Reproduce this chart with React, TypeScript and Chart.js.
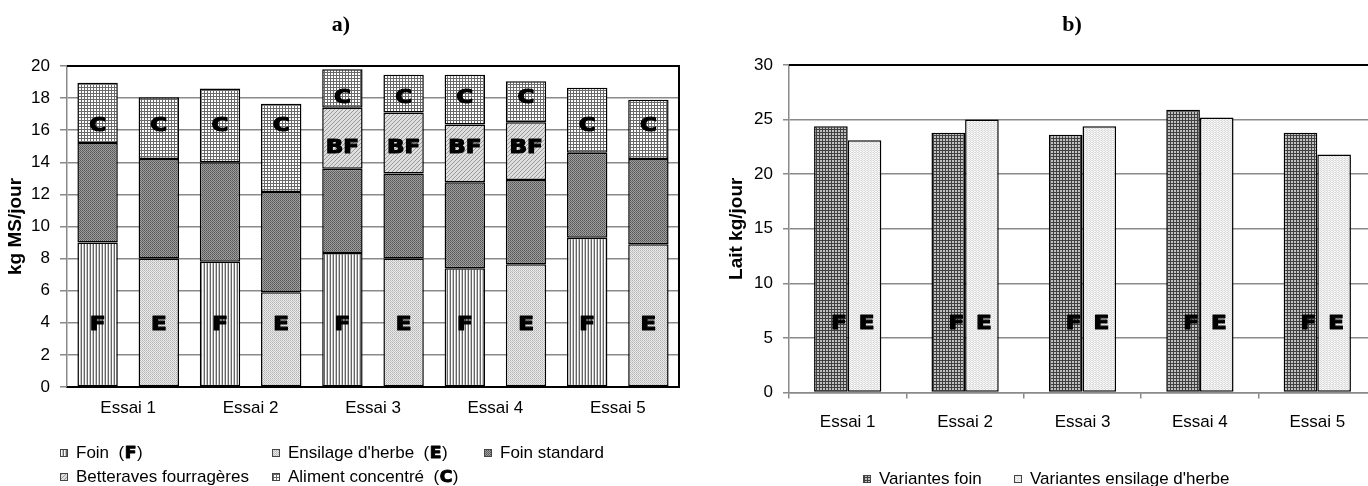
import React, { useEffect, useRef } from 'react';
import { Chart, registerables } from 'chart.js';

Chart.register(...registerables);

// ---------------- data ----------------
const essais = ['Essai 1', 'Essai 2', 'Essai 3', 'Essai 4', 'Essai 5'];
const variantLetters = ['F', 'E'];
const barLabels = essais.flatMap((e) => variantLetters.map((v) => `${e} ${v}`));

// a) ration, kg MS/jour — one value per bar (Essai 1 F, Essai 1 E, Essai 2 F, ...)
const foin = [9.0, null, 7.8, null, 8.35, null, 7.4, null, 9.3, null];
const ensilage = [null, 8.0, null, 5.9, null, 8.0, null, 7.65, null, 8.9];
const foinStandard = [6.2, 6.2, 6.2, 6.25, 5.25, 5.3, 5.35, 5.25, 5.3, 5.3];
const betteraves = [null, null, null, null, 3.8, 3.8, 3.6, 3.6, null, null];
const concentre = [3.75, 3.85, 4.6, 5.5, 2.4, 2.35, 3.1, 2.55, 4.05, 3.7];
const seriesA = ['Foin (F)', "Ensilage d'herbe (E)", 'Foin standard', 'Betteraves fourragères', 'Aliment concentré (C)'];

// letters written inside the bars (value on the y axis where they sit)
const baseLetterY = 4;
const concLetterY = [16.4, 16.4, 16.4, 16.4, 18.15, 18.15, 18.15, 18.15, 16.4, 16.4];
const bfLetterY = [null, null, null, null, 15.05, 15.05, 15.05, 15.05, null, null];

const yMaxA = 20;
const yStepA = 2;

// b) lait, kg/jour
const laitFoin = [24.4, 23.8, 23.6, 25.9, 23.8];
const laitEnsilage = [23.1, 25.0, 24.4, 25.2, 21.8];
const seriesB = ['Variantes foin', "Variantes ensilage d'herbe"];
const laitLetterY = 6.5;

const yMaxB = 30;
const yStepB = 5;

// ---------------- styles ----------------
const SANS = '"Liberation Sans", Arial, sans-serif';
const HEAVY = '"DejaVu Sans", "Liberation Sans", sans-serif';
const GRID = '#8a8a8a';

function makePattern(w: number, h: number, draw: (g: CanvasRenderingContext2D) => void): CanvasPattern {
  const c = document.createElement('canvas');
  c.width = w;
  c.height = h;
  const g = c.getContext('2d')!;
  draw(g);
  return g.createPattern(c, 'repeat')!;
}
function px(g: CanvasRenderingContext2D, color: string, x: number, y: number, w = 1, h = 1) {
  g.fillStyle = color;
  g.fillRect(x, y, w, h);
}

function buildPatterns() {
  const foinP = makePattern(3, 1, (g) => {
    px(g, '#666666', 0, 0);
    px(g, '#ffffff', 1, 0);
    px(g, '#c4c4c4', 2, 0);
  });
  const ensP = makePattern(2, 2, (g) => {
    px(g, '#b4b4b4', 0, 0);
    px(g, '#eeeeee', 1, 0);
    px(g, '#e6e6e6', 0, 1);
    px(g, '#c4c4c4', 1, 1);
  });
  const stdP = makePattern(2, 2, (g) => {
    px(g, '#555555', 0, 0);
    px(g, '#a2a2a2', 1, 0);
    px(g, '#9a9a9a', 0, 1);
    px(g, '#666666', 1, 1);
  });
  const bfP = makePattern(4, 4, (g) => {
    px(g, '#dedede', 0, 0, 4, 4);
    for (let i = 0; i < 4; i++) px(g, '#9a9a9a', 3 - i, i);
  });
  const concP = makePattern(3, 3, (g) => {
    px(g, '#ffffff', 0, 0, 3, 3);
    px(g, '#6a6a6a', 0, 0, 3, 1);
    px(g, '#6a6a6a', 0, 0, 1, 3);
  });
  const laitFoinP = makePattern(3, 3, (g) => {
    px(g, '#c0c0c0', 0, 0, 3, 3);
    px(g, '#404040', 0, 0, 3, 1);
    px(g, '#404040', 0, 0, 1, 3);
  });
  const laitEnsP = makePattern(3, 2, (g) => {
    px(g, '#d6d6d6', 0, 0);
    px(g, '#f2f2f2', 1, 0);
    px(g, '#e4e4e4', 2, 0);
    px(g, '#f6f6f6', 0, 1);
    px(g, '#dadada', 1, 1);
    px(g, '#fafafa', 2, 1);
  });
  return { foinP, ensP, stdP, bfP, concP, laitFoinP, laitEnsP };
}

// heavy "Arial Black"-like lettering: bold glyph, thickened by a stroke, slightly widened
function heavyText(ctx: CanvasRenderingContext2D, text: string, x: number, y: number, align: CanvasTextAlign = 'center', size = 20) {
  ctx.save();
  ctx.font = `bold ${size}px ${HEAVY}`;
  ctx.fillStyle = '#000';
  ctx.strokeStyle = '#000';
  ctx.lineWidth = size * 0.06;
  ctx.lineJoin = 'round';
  ctx.textAlign = align;
  ctx.textBaseline = 'alphabetic';
  ctx.translate(x, y);
  ctx.scale(1.15, 1);
  const dy = size * 0.365;
  ctx.fillText(text, 0, dy);
  ctx.strokeText(text, 0, dy);
  ctx.restore();
}

function drawLegendItem(ctx: CanvasRenderingContext2D, label: string, fill: CanvasPattern, x: number, y: number) {
  ctx.save();
  ctx.fillStyle = fill;
  ctx.fillRect(x, y - 4, 8, 8);
  ctx.strokeStyle = '#444';
  ctx.lineWidth = 1;
  ctx.strokeRect(x + 0.5, y - 3.5, 7, 7);
  ctx.fillStyle = '#000';
  ctx.textBaseline = 'middle';
  ctx.textAlign = 'left';
  const m = label.match(/^(.*)\(([^)]+)\)$/);
  let cx = x + 16;
  if (m) {
    ctx.font = `17px ${SANS}`;
    const pre = m[1] + ' (';
    ctx.fillText(pre, cx, y);
    cx += ctx.measureText(pre).width;
    ctx.font = `bold 15px ${HEAVY}`;
    const w = ctx.measureText(m[2]).width * 1.15 + 1;
    heavyText(ctx, m[2], cx + w / 2, y - 0.5, 'center', 15);
    cx += w;
    ctx.fillStyle = '#000';
    ctx.textBaseline = 'middle';
    ctx.textAlign = 'left';
    ctx.font = `17px ${SANS}`;
    ctx.fillText(')', cx, y);
  } else {
    ctx.font = `17px ${SANS}`;
    ctx.fillText(label, cx, y);
  }
  ctx.restore();
}

function drawAxisTitle(ctx: CanvasRenderingContext2D, text: string, x: number, y: number) {
  ctx.save();
  ctx.translate(x, y);
  ctx.rotate(-Math.PI / 2);
  ctx.font = `bold 19px ${SANS}`;
  ctx.fillStyle = '#000';
  ctx.textAlign = 'center';
  ctx.textBaseline = 'middle';
  ctx.fillText(text, 0, 0);
  ctx.restore();
}

function drawPanelTitle(ctx: CanvasRenderingContext2D, text: string, x: number, y: number) {
  ctx.save();
  ctx.font = `bold 22px "Liberation Serif", "Times New Roman", serif`;
  ctx.fillStyle = '#000';
  ctx.textAlign = 'center';
  ctx.textBaseline = 'alphabetic';
  ctx.fillText(text, x, y);
  ctx.restore();
}

export default function App() {
  const leftRef = useRef<HTMLCanvasElement>(null);
  const rightRef = useRef<HTMLCanvasElement>(null);

  useEffect(() => {
    Chart.defaults.font.family = SANS;
    Chart.defaults.color = '#000';
    const P = buildPatterns();
    const fillsA = [P.foinP, P.ensP, P.stdP, P.bfP, P.concP];
    const valuesA = [foin, ensilage, foinStandard, betteraves, concentre];

    const leftDecor = {
      id: 'leftDecor',
      afterDatasetsDraw(chart: any) {
        const ctx = chart.ctx as CanvasRenderingContext2D;
        const y = chart.scales.y;
        const meta = chart.getDatasetMeta(2);
        barLabels.forEach((_, i) => {
          const x = meta.data[i].x;
          heavyText(ctx, variantLetters[i % 2], x, y.getPixelForValue(baseLetterY));
          heavyText(ctx, 'C', x, y.getPixelForValue(concLetterY[i]));
          const bf = bfLetterY[i];
          if (bf != null) heavyText(ctx, 'BF', x, y.getPixelForValue(bf));
        });
      },
      afterDraw(chart: any) {
        const ctx = chart.ctx as CanvasRenderingContext2D;
        const a = chart.chartArea;
        ctx.save();
        ctx.strokeStyle = '#000';
        ctx.lineWidth = 2;
        ctx.beginPath();
        ctx.moveTo(a.left, a.top);
        ctx.lineTo(a.right, a.top);
        ctx.lineTo(a.right, a.bottom);
        ctx.lineTo(a.left, a.bottom);
        ctx.stroke();
        ctx.restore();
        drawPanelTitle(ctx, 'a)', 341, 31);
        drawAxisTitle(ctx, 'kg MS/jour', 15.5, (a.top + a.bottom) / 2);
        const cols = [60, 272, 484];
        const rows = [453, 477];
        seriesA.forEach((lab, i) => {
          drawLegendItem(ctx, lab, fillsA[i], cols[i % 3], rows[Math.floor(i / 3)]);
        });
      },
    };

    const left = new Chart(leftRef.current!, {
      type: 'bar',
      data: {
        labels: barLabels,
        datasets: seriesA.map((lab, i) => ({
          label: lab,
          data: valuesA[i],
          backgroundColor: fillsA[i],
          borderColor: '#000',
          borderWidth: 1.5,
          borderSkipped: false,
          barPercentage: 0.66,
          categoryPercentage: 1,
          xAxisID: 'x',
        })),
      },
      options: {
        responsive: false,
        animation: false,
        events: [],
        layout: { padding: { top: 66, right: 11, left: 0, bottom: 0 } },
        plugins: { legend: { display: false }, tooltip: { enabled: false }, title: { display: false } },
        scales: {
          x: { type: 'category', display: false, stacked: true, offset: true },
          x2: {
            type: 'category',
            labels: essais,
            position: 'bottom',
            offset: true,
            grid: { display: false, drawTicks: false },
            border: { display: true, color: '#000', width: 2 },
            ticks: { font: { size: 17, family: SANS }, color: '#000', padding: 11, maxRotation: 0 },
            afterFit: (s: any) => { s.height = 99; },
          },
          y: {
            stacked: true,
            min: 0,
            max: yMaxA,
            ticks: { stepSize: yStepA, font: { size: 17, family: SANS }, color: '#000', padding: 10 },
            grid: { color: GRID, lineWidth: 1.5, tickLength: 7 },
            border: { color: GRID, width: 1.5 },
            afterFit: (s: any) => { s.width = 67; },
          },
        },
      } as any,
      plugins: [leftDecor],
    });

    const fillsB = [P.laitFoinP, P.laitEnsP];
    const valuesB = [laitFoin, laitEnsilage];

    const rightDecor = {
      id: 'rightDecor',
      afterDatasetsDraw(chart: any) {
        const ctx = chart.ctx as CanvasRenderingContext2D;
        const y = chart.scales.y;
        const mF = chart.getDatasetMeta(0);
        const mE = chart.getDatasetMeta(1);
        const ly = y.getPixelForValue(laitLetterY);
        essais.forEach((_, i) => {
          const bF = mF.data[i];
          const bE = mE.data[i];
          heavyText(ctx, variantLetters[0], bF.x + bF.width / 2 - 1, ly, 'right');
          heavyText(ctx, variantLetters[1], bE.x - bE.width / 2 + 11, ly, 'left');
        });
      },
      afterDraw(chart: any) {
        const ctx = chart.ctx as CanvasRenderingContext2D;
        const a = chart.chartArea;
        ctx.save();
        ctx.strokeStyle = '#000';
        ctx.lineWidth = 2;
        ctx.beginPath();
        ctx.moveTo(a.left, a.top);
        ctx.lineTo(chart.width, a.top);
        ctx.stroke();
        ctx.restore();
        drawPanelTitle(ctx, 'b)', 382, 31);
        drawAxisTitle(ctx, 'Lait kg/jour', 47, (a.top + a.bottom) / 2);
        const cols = [173, 324];
        seriesB.forEach((lab, i) => drawLegendItem(ctx, lab, fillsB[i], cols[i], 479));
      },
    };

    const right = new Chart(rightRef.current!, {
      type: 'bar',
      data: {
        labels: essais,
        datasets: seriesB.map((lab, i) => ({
          label: lab,
          data: valuesB[i],
          backgroundColor: fillsB[i],
          borderColor: '#000',
          borderWidth: 1.5,
          borderSkipped: false,
          barPercentage: 1,
          categoryPercentage: 0.573,
        })),
      },
      options: {
        responsive: false,
        animation: false,
        events: [],
        layout: { padding: { top: 65, right: 24, left: 0, bottom: 0 } },
        plugins: { legend: { display: false }, tooltip: { enabled: false }, title: { display: false } },
        scales: {
          x: {
            offset: true,
            grid: { drawOnChartArea: false, drawTicks: true, tickLength: 6, color: GRID, lineWidth: 1.5, offset: true },
            border: { color: GRID, width: 1.5 },
            ticks: { font: { size: 17, family: SANS }, color: '#000', padding: 14, maxRotation: 0 },
            afterFit: (s: any) => { s.height = 93.5; },
          },
          y: {
            min: 0,
            max: yMaxB,
            ticks: { stepSize: yStepB, font: { size: 17, family: SANS }, color: '#000', padding: 10 },
            grid: { color: GRID, lineWidth: 1.5, tickLength: 6 },
            border: { color: GRID, width: 1.5 },
            afterFit: (s: any) => { s.width = 99; },
          },
        },
      } as any,
      plugins: [rightDecor],
    });

    return () => {
      left.destroy();
      right.destroy();
    };
  }, []);

  return (
    <div style={{ position: 'fixed', left: 0, top: 0, width: 1368, height: 486, overflow: 'hidden', background: '#fff' }}>
      <canvas ref={leftRef} width={690} height={486} style={{ position: 'absolute', left: 0, top: 0 }} />
      <canvas ref={rightRef} width={710} height={486} style={{ position: 'absolute', left: 690, top: 0 }} />
    </div>
  );
}
